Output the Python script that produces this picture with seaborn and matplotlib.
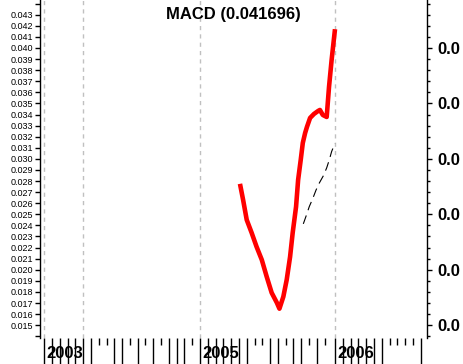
import numpy as np
import pandas as pd
import matplotlib
matplotlib.use("Agg")
import matplotlib.pyplot as plt
from matplotlib.ticker import FixedLocator, FormatStrFormatter
import seaborn as sns

# x values are weeks counted from the start of 2005
macd_weeks = [15.4, 16.6, 18.0, 19.9, 21.8, 23.8, 25.7, 27.6, 29.6, 30.6, 32.1, 33.4,
              34.7, 35.7, 37.0, 37.8, 38.8, 39.6, 40.5, 41.2, 42.4, 43.9, 45.5, 46.2,
              47.3, 48.8, 49.7, 50.7, 52.0]
macd_vals = [0.02775, 0.02631, 0.02450, 0.02333, 0.02207, 0.02090, 0.01937, 0.01793,
             0.01703, 0.01649, 0.01757, 0.01910, 0.02117, 0.02333, 0.02568, 0.02811,
             0.02991, 0.03144, 0.03234, 0.03288, 0.03369, 0.03405, 0.03432, 0.03441,
             0.03396, 0.03378, 0.03649, 0.03892, 0.041696]

signal_weeks = [39.8, 40.8, 42.1, 43.4, 44.7, 46.0, 47.5, 48.8, 49.8, 50.7, 52.0]
signal_vals = [0.02414, 0.02480, 0.02570, 0.02640, 0.02719, 0.02784, 0.02847, 0.02919,
               0.02991, 0.03066, 0.03141]

year_weeks = [-60, -45, 0, 52]
year_labels = ["2003", "", "2005", "2006"]

left_ticks = np.round(np.arange(0.014, 0.0445, 0.001), 3)
right_ticks = [0.015, 0.020, 0.025, 0.030, 0.035, 0.040]

sns.set_style("white")
plt.rcParams["font.family"] = ["Liberation Sans", "DejaVu Sans"]
plt.rcParams["text.color"] = "black"
plt.rcParams["xtick.color"] = "black"
plt.rcParams["ytick.color"] = "black"
plt.rcParams["axes.labelcolor"] = "black"

macd_df = pd.DataFrame({"week": macd_weeks, "value": macd_vals})
signal_df = pd.DataFrame({"week": signal_weeks, "value": signal_vals})

fig = plt.figure(figsize=(4.64, 3.64), dpi=100)
ax = fig.add_axes([40 / 464, 26 / 364, 387 / 464, 338 / 364])

for yw in year_weeks:
    ax.axvline(yw, color="#c0c0c0", lw=1, linestyle=(0, (3, 3)), zorder=0)

sns.lineplot(data=macd_df, x="week", y="value", color="#ff0000", lw=3.3, ax=ax,
             solid_capstyle="butt")
sns.lineplot(data=signal_df, x="week", y="value", color="black", lw=0.8, ax=ax,
             linestyle=(0, (8, 5)))

ax.set_xlim(-61.63, 87.44)
ax.set_ylim(0.013847, 0.044326)
ax.set_xlabel("")
ax.set_ylabel("")

# left axis: every 0.001, end ticks unlabeled
ax.set_yticks(left_ticks)
ax.set_yticklabels(["" if (v < 0.0145 or v > 0.0435) else f"{v:.3f}" for v in left_ticks],
                   fontsize=6.5)
ax.tick_params(axis="y", which="major", length=3.6, width=1, pad=1.4, colors="black")

# bottom: ticks every 3 weeks, long and short
before = [3 * k for k in range(-20, 17)]
after = [52 + 3 * j for j in range(1, 12)]
short = [3 * k for k in (-13, -12, -9, -7, -5, -1, 7, 8, 11, 14, 16)] + \
        [52 + 3 * j for j in (7, 8, 9, 10)]
longs = sorted(set([t for t in before + after if t not in short] + year_weeks))
ax.xaxis.set_major_locator(FixedLocator(longs))
ax.xaxis.set_minor_locator(FixedLocator(short))
ax.set_xticklabels([])
ax.tick_params(axis="x", which="major", length=18.7, width=1, color="black",
               direction="out", bottom=True)
ax.tick_params(axis="x", which="minor", length=5, width=1, color="black",
               direction="out", bottom=True)

for yw, lab in zip(year_weeks, year_labels):
    if lab:
        ax.text(yw + 0.8, -0.045, lab, transform=ax.get_xaxis_transform(),
                fontsize=12, fontweight="bold", ha="left", va="center", clip_on=False,
                color="black")

ax2 = ax.twinx()
ax2.set_ylim(ax.get_ylim())
ax2.yaxis.set_major_locator(FixedLocator(right_ticks))
ax2.yaxis.set_minor_locator(FixedLocator(left_ticks))
ax2.yaxis.set_major_formatter(FormatStrFormatter("%.1f"))
ax2.tick_params(axis="y", which="major", length=3.6, width=1, pad=3.6, labelsize=12,
                colors="black")
ax2.tick_params(axis="y", which="minor", length=2.2, width=1, color="black")
for t in ax2.get_yticklabels():
    t.set_fontweight("bold")

for a in (ax, ax2):
    a.spines["top"].set_visible(False)
    a.spines["bottom"].set_visible(False)
    for s in a.spines.values():
        s.set_color("black")
        s.set_linewidth(1)
ax.spines["right"].set_visible(False)
ax2.spines["left"].set_visible(False)

fig.text(233 / 464, 1 - 15 / 364, "MACD (0.041696)", fontsize=12, fontweight="bold",
         ha="center", va="center", color="black")

fig.savefig("out.png", dpi=100)
